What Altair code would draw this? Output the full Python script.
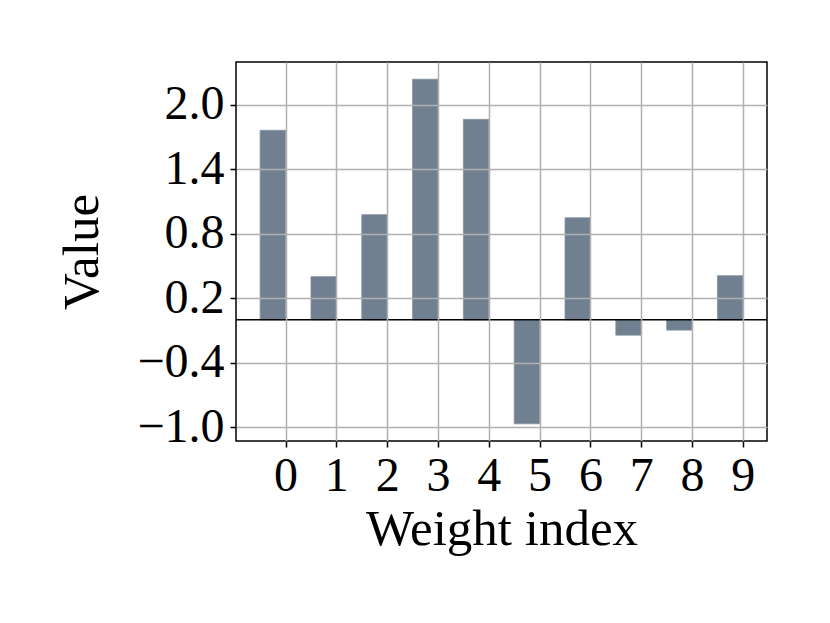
import altair as alt
import pandas as pd

indices = [0, 1, 2, 3, 4, 5, 6, 7, 8, 9]
values = [1.764, 0.402, 0.979, 2.240, 1.866, -0.968, 0.950, -0.143, -0.096, 0.411]
y_ticks = [-1.0, -0.4, 0.2, 0.8, 1.4, 2.0]
bar_width = 0.5

df = pd.DataFrame({"idx": indices, "value": values})
df["left"] = df["idx"] - bar_width
df["zero"] = 0.0

FONT = "Liberation Serif"
FS = 48
TFS = 51

x_scale = alt.Scale(domain=[-0.975, 9.475], nice=False, zero=False)
y_scale = alt.Scale(domain=[-1.128, 2.40], nice=False, zero=False)

x_axis = alt.Axis(values=indices, format="d", title="Weight index", grid=True,
                  gridColor="#b0b0b0", gridWidth=1.5, domain=False,
                  tickColor="black", tickWidth=1.5, tickSize=6,
                  labelFont=FONT, labelFontSize=FS, labelColor="black", labelPadding=5,
                  titleFont=FONT, titleFontSize=TFS, titleFontWeight="normal",
                  titleColor="black", titlePadding=4, labelAngle=0, zindex=1)
y_axis = alt.Axis(values=y_ticks, format=".1f", title="Value", grid=True,
                  gridColor="#b0b0b0", gridWidth=1.5, domain=False,
                  tickColor="black", tickWidth=1.5, tickSize=6,
                  labelFont=FONT, labelFontSize=FS, labelColor="black", labelPadding=6,
                  titleFont=FONT, titleFontSize=TFS, titleFontWeight="normal",
                  titleColor="black", titlePadding=28, zindex=1)

bars = alt.Chart(df).mark_bar(color="#708090", stroke="#8592a0", strokeWidth=0.8).encode(
    x=alt.X("left:Q", scale=x_scale, axis=x_axis),
    x2="idx:Q",
    y=alt.Y("zero:Q", scale=y_scale, axis=y_axis),
    y2="value:Q",
)

zero_line = alt.Chart(pd.DataFrame({"z": [0.0]})).mark_rule(color="black", strokeWidth=1.5).encode(
    y=alt.Y("z:Q", scale=y_scale),
)

chart = alt.layer(bars, zero_line).properties(
    width=531, height=379,
    background="white",
    autosize=alt.AutoSizeParams(type="none"),
    padding={"left": 228, "top": 54, "right": 40, "bottom": 160},
).configure_view(stroke="black", strokeWidth=1.5)

chart.save("out.html", embed_options={"renderer": "svg", "actions": False})
